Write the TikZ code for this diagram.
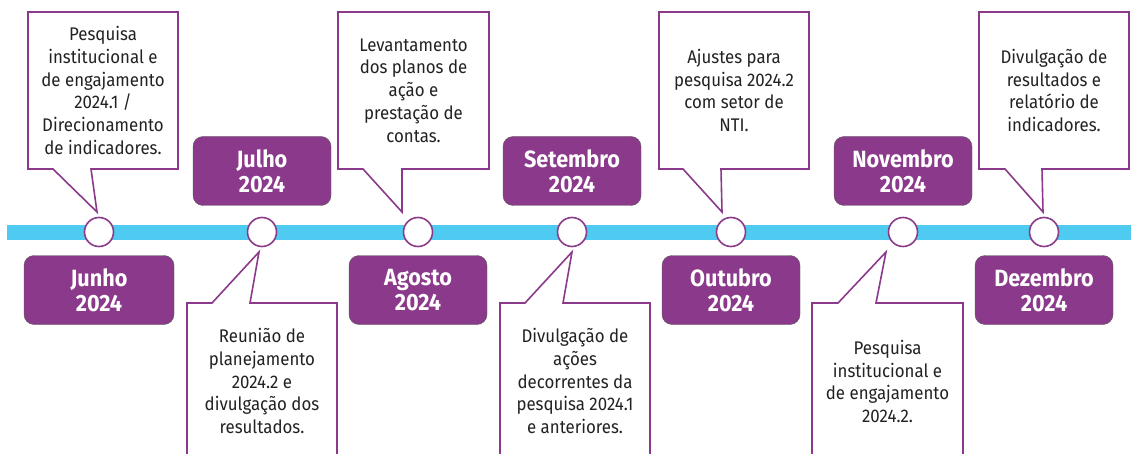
\documentclass[tikz,border=0pt]{standalone}
\usepackage{fontspec}
\setmainfont{Fira Sans}[FakeStretch=0.92]
\usetikzlibrary{positioning}
\definecolor{roxo}{HTML}{8B3A8B}
\definecolor{azul}{HTML}{4FCBF2}
\definecolor{borda}{HTML}{5A5A5A}
\definecolor{tinta}{HTML}{222222}

\begin{document}
\begin{tikzpicture}
      [x=1pt, y=-1pt,
      mes/.style={rectangle, rounded corners=10pt, fill=roxo, draw=borda, thin,
        text=white, font=\bfseries\fontsize{23.5}{25}\selectfont, align=center,
        minimum width=138pt, minimum height=69pt, inner sep=0pt},
      marco/.style={circle, draw=roxo, fill=white, line width=1.6pt,
        minimum size=29pt, inner sep=0pt},
      balao/.style={draw=roxo, fill=white, line width=1.6pt, line join=miter},
      texto/.style={align=center, text=tinta, inner sep=0pt,
        font=\fontsize{18.3}{22.7}\selectfont}]
      \useasboundingbox (0,0) rectangle (1131,454);
      % linha do tempo
      \fill[azul] (7,225) rectangle (1131,240);
      \node (m1) at (99, 232) [marco] {};
      \node (m2) at (262, 232) [marco] {};
      \node (m3) at (418, 232) [marco] {};
      \node (m4) at (572, 232) [marco] {};
      \node (m5) at (731, 232) [marco] {};
      \node (m6) at (903, 232) [marco] {};
      \node (m7) at (1044, 232) [marco] {};
      % meses
      \node (junho) at (99, 290) [mes, minimum width=150pt] {Junho\\2024};
      \node (julho) at (262, 171) [mes] {Julho\\2024};
      \node (agosto) at (418, 290) [mes] {Agosto\\2024};
      \node (setembro) at (572, 171) [mes] {Setembro\\2024};
      \node (outubro) at (731, 290) [mes] {Outubro\\2024};
      \node (novembro) at (903, 171) [mes] {Novembro\\2024};
      \node (dezembro) at (1044, 290) [mes] {Dezembro\\2024};
      % baloes de cima
      \draw[balao] (28,12) -- (178,12) -- (178,169) -- (91,169) -- (97,212)
        -- (53,169) -- (28,169) -- cycle;
      \node (t1) at (103, 90.5) [texto] {Pesquisa\\institucional e\\de engajamento\\2024.1 /\\Direcionamento\\de indicadores.};
      \draw[balao] (338,12) -- (489,12) -- (489,169) -- (402,169) -- (402,212)
        -- (363,169) -- (338,169) -- cycle;
      \node (t3) at (413.5, 90.5) [texto] {Levantamento\\dos planos de\\ação e\\prestação de\\contas.};
      \draw[balao] (659,12) -- (809,12) -- (809,169) -- (721,169) -- (722,212)
        -- (683,169) -- (659,169) -- cycle;
      \node (t5) at (734, 90.5) [texto] {Ajustes para\\pesquisa 2024.2\\com setor de\\NTI.};
      \draw[balao] (979,12) -- (1129,12) -- (1129,169) -- (1042,169) -- (1043,212)
        -- (1005,169) -- (979,169) -- cycle;
      \node (t7) at (1054, 90.5) [texto] {Divulgação de\\resultados e\\relatório de\\indicadores.};
      % baloes de baixo
      \draw[balao] (187,462) -- (187,303) -- (212,303) -- (259,252) -- (250,303)
        -- (337,303) -- (337,462);
      \node (t2) at (262, 381) [texto] {Reunião de\\planejamento\\2024.2 e\\divulgação dos\\resultados.};
      \draw[balao] (500,462) -- (500,303) -- (525,303) -- (572,252) -- (563,303)
        -- (650,303) -- (650,462);
      \node (t4) at (575, 381) [texto] {Divulgação de\\ações\\decorrentes da\\pesquisa 2024.1\\e anteriores.};
      \draw[balao] (812,462) -- (812,303) -- (838,303) -- (886,252) -- (876,303)
        -- (963,303) -- (963,462);
      \node (t6) at (887.5, 381.5) [texto] {Pesquisa\\institucional e\\de engajamento\\2024.2.};
    \end{tikzpicture}
\end{document}
